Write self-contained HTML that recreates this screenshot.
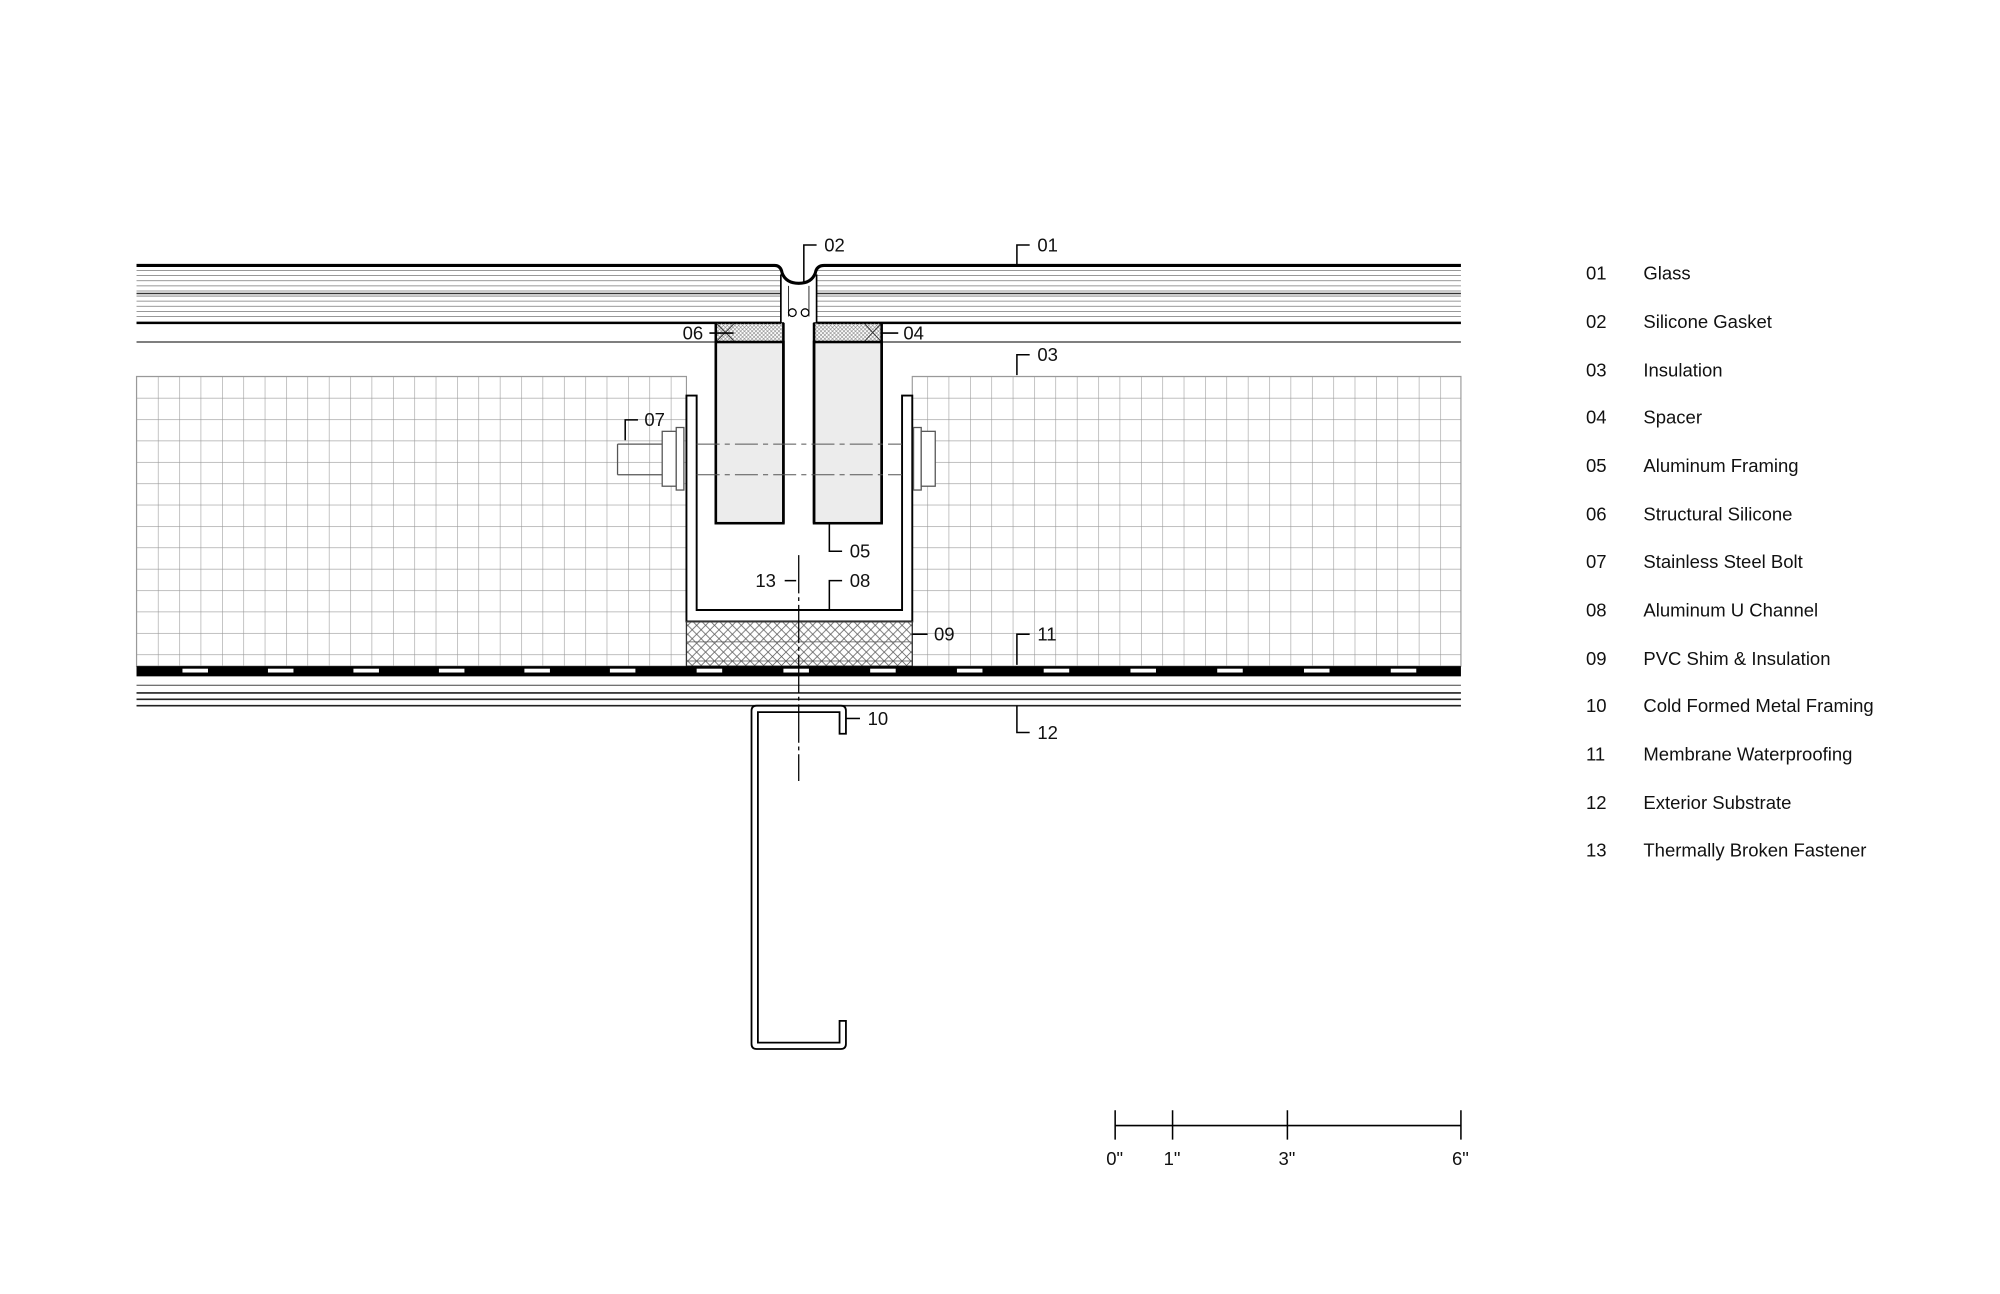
<!DOCTYPE html>
<html><head><meta charset="utf-8"><style>html,body{margin:0;padding:0;background:#fff}svg{display:block}text{font-family:"Liberation Sans",sans-serif;font-size:14.5px;fill:#111}</style></head>
<body>
<svg width="2000" height="1294" viewBox="0 0 1567.5 1014" preserveAspectRatio="none" xmlns="http://www.w3.org/2000/svg">
<defs>
<pattern id="grid" x="107" y="295" width="16.75" height="16.75" patternUnits="userSpaceOnUse"><path d="M0 0H16.75M0 0V16.75" stroke="#999" stroke-width="0.9" fill="none"/></pattern>
<pattern id="xh" width="7" height="7" patternUnits="userSpaceOnUse"><path d="M0 0L7 7M7 0L0 7" stroke="#555" stroke-width="0.6"/></pattern>
<pattern id="xh2" width="3" height="3" patternUnits="userSpaceOnUse"><path d="M0 0L3 3M3 0L0 3" stroke="#777" stroke-width="0.4"/></pattern>
</defs>
<rect x="107" y="295" width="431" height="227" fill="url(#grid)" stroke="#999" stroke-width="0.9"/>
<rect x="715" y="295" width="430" height="227" fill="url(#grid)" stroke="#999" stroke-width="0.9"/>
<g stroke="#777" stroke-width="0.6">
<path d="M107 212H612M107 216H612M107 220H612M107 224H612M107 228H612M107 232H612M107 236H612M107 240H612M107 244H612M107 248H612"/>
<path d="M640 212H1145M640 216H1145M640 220H1145M640 224H1145M640 228H1145M640 232H1145M640 236H1145M640 240H1145M640 244H1145M640 248H1145"/>
</g>
<path d="M107 208H607Q612 208 613 214Q616 222 626 222Q636 222 639 214Q640 208 646 208H1145" stroke="#000" stroke-width="2.4" fill="none"/>
<path d="M107 230H612M640 230H1145" stroke="#333" stroke-width="1.2"/>
<path d="M612 215V253M640 215V253" stroke="#000" stroke-width="1.3"/>
<path d="M618 224V248M634 224V248" stroke="#333" stroke-width="0.8"/>
<circle cx="621" cy="245" r="3" fill="none" stroke="#000"/><circle cx="631" cy="245" r="3" fill="none" stroke="#000"/>
<path d="M107 253H612M640 253H1145" stroke="#000" stroke-width="2"/>
<path d="M107 268H561M691 268H1145" stroke="#333" stroke-width="1"/>
<rect x="561" y="253" width="53" height="15" fill="url(#xh2)" stroke="#000"/>
<rect x="638" y="253" width="53" height="15" fill="url(#xh2)" stroke="#000"/>
<path d="M562 254L575 267M575 254L562 267M678 254L690 267M690 254L678 267" stroke="#333" stroke-width="0.7"/>
<rect x="561" y="268" width="53" height="142" fill="#ececec" stroke="#000" stroke-width="2"/>
<rect x="638" y="268" width="53" height="142" fill="#ececec" stroke="#000" stroke-width="2"/>
<path d="M561 253V410M614 253V410M638 253V410M691 253V410" stroke="#000" stroke-width="2"/>
<path d="M538 310H546V478H707V310H715V487H538Z" fill="#fff" stroke="#000" stroke-width="1.5"/>
<rect x="538" y="487" width="177" height="35" fill="url(#xh)" stroke="#333"/>
<path d="M538 503H715M538 518H715" stroke="#555" stroke-width="0.6"/>
<path d="M484 348H519M484 372H519M484 348V372" stroke="#555" fill="none"/>
<path d="M546 348H707M546 372H707" stroke="#555" stroke-width="0.8" stroke-dasharray="18 4 4 4"/>
<rect x="519" y="338" width="11" height="43" fill="#fff" stroke="#555"/>
<rect x="530" y="335" width="6" height="49" fill="#fff" stroke="#555"/>
<rect x="716" y="335" width="6" height="49" fill="#fff" stroke="#555"/>
<rect x="722" y="338" width="11" height="43" fill="#fff" stroke="#555"/>
<rect x="107" y="522" width="1038" height="8" fill="#000"/>
<g fill="#fff">
<rect x="143" y="524" width="20" height="3"/><rect x="210" y="524" width="20" height="3"/><rect x="277" y="524" width="20" height="3"/><rect x="344" y="524" width="20" height="3"/><rect x="411" y="524" width="20" height="3"/><rect x="478" y="524" width="20" height="3"/><rect x="546" y="524" width="20" height="3"/><rect x="614" y="524" width="20" height="3"/><rect x="682" y="524" width="20" height="3"/><rect x="750" y="524" width="20" height="3"/><rect x="818" y="524" width="20" height="3"/><rect x="886" y="524" width="20" height="3"/><rect x="954" y="524" width="20" height="3"/><rect x="1022" y="524" width="20" height="3"/><rect x="1090" y="524" width="20" height="3"/>
</g>
<path d="M107 537H1145" stroke="#444" stroke-width="0.8"/>
<path d="M107 543H1145M107 548H1145M107 553H1145" stroke="#222" stroke-width="1.2"/>
<path d="M663 575V557Q663 553 659 553H593Q589 553 589 557V818Q589 822 593 822H659Q663 822 663 818V800H658V817H594V558H658V575Z" fill="#fff" stroke="#000" stroke-width="1.4"/>
<path d="M626 435V612" stroke="#000" stroke-width="1" stroke-dasharray="30 3 3 3"/>
<g stroke="#000" stroke-width="1.2" fill="none">
<path d="M630 222V192H640"/><path d="M797 207V192H807"/><path d="M797 294V278H807"/>
<path d="M556 261H575"/><path d="M691 261H704"/><path d="M490 345V329H500"/>
<path d="M650 410V432H660"/><path d="M615 455H624"/><path d="M650 478V455H660"/>
<path d="M715 497H727"/><path d="M797 521V497H807"/><path d="M797 553V574H807"/><path d="M663 563H674"/>
</g>
<g>
<text x="646" y="197">02</text><text x="813" y="197">01</text><text x="813" y="283">03</text>
<text x="535" y="266">06</text><text x="708" y="266">04</text><text x="505" y="334">07</text>
<text x="666" y="437">05</text><text x="592" y="460">13</text><text x="666" y="460">08</text>
<text x="732" y="502">09</text><text x="813" y="502">11</text><text x="813" y="579">12</text><text x="680" y="568">10</text>
</g>
<g>
<text x="1243" y="219">01</text><text x="1288" y="219">Glass</text>
<text x="1243" y="257">02</text><text x="1288" y="257">Silicone Gasket</text>
<text x="1243" y="295">03</text><text x="1288" y="295">Insulation</text>
<text x="1243" y="332">04</text><text x="1288" y="332">Spacer</text>
<text x="1243" y="370">05</text><text x="1288" y="370">Aluminum Framing</text>
<text x="1243" y="408">06</text><text x="1288" y="408">Structural Silicone</text>
<text x="1243" y="445">07</text><text x="1288" y="445">Stainless Steel Bolt</text>
<text x="1243" y="483">08</text><text x="1288" y="483">Aluminum U Channel</text>
<text x="1243" y="521">09</text><text x="1288" y="521">PVC Shim &amp; Insulation</text>
<text x="1243" y="558">10</text><text x="1288" y="558">Cold Formed Metal Framing</text>
<text x="1243" y="596">11</text><text x="1288" y="596">Membrane Waterproofing</text>
<text x="1243" y="634">12</text><text x="1288" y="634">Exterior Substrate</text>
<text x="1243" y="671">13</text><text x="1288" y="671">Thermally Broken Fastener</text>
</g>
<g stroke="#000" stroke-width="1.2">
<path d="M874 882H1145M874 870V893M919 870V893M1009 870V893M1145 870V893"/>
</g>
<text x="867" y="913">0"</text><text x="912" y="913">1"</text><text x="1002" y="913">3"</text><text x="1138" y="913">6"</text>
</svg>
</body></html>
